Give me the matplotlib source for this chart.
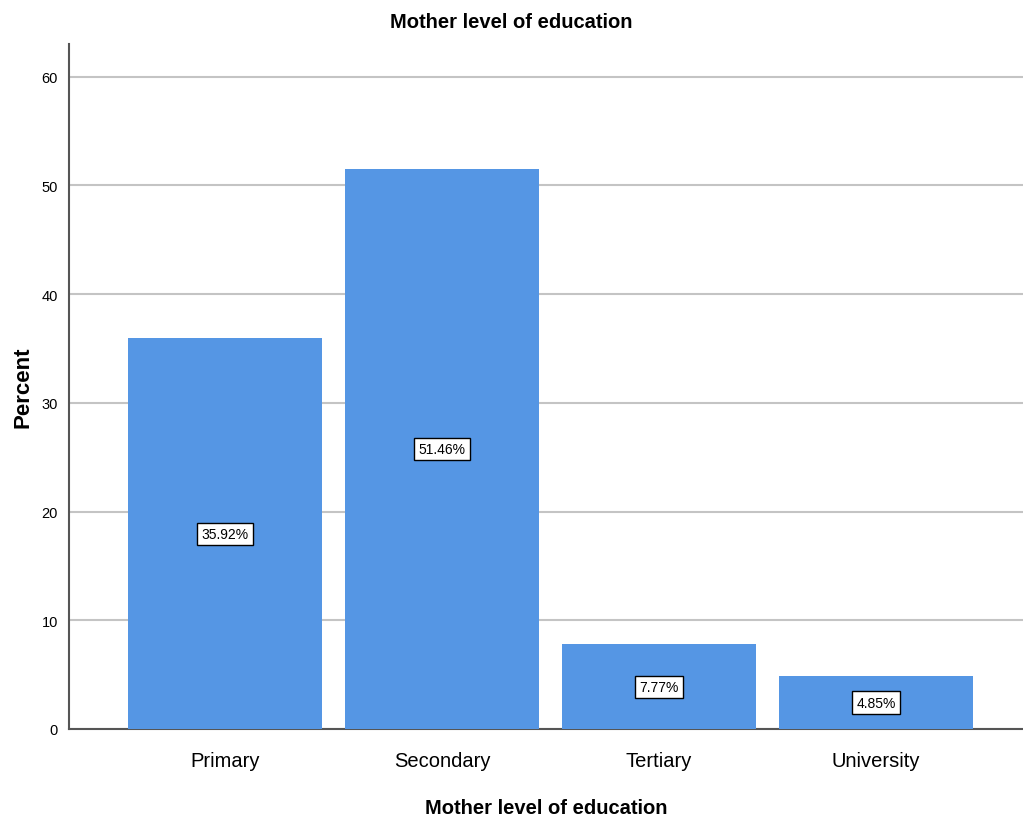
import numpy as np
import matplotlib.pyplot as plt

plt.rcParams['font.family'] = ['Liberation Sans', 'DejaVu Sans']

# mother's level of education, percent of respondents
levels = ['Primary', 'Secondary', 'Tertiary', 'University']
percent = [35.92, 51.46, 7.77, 4.85]
yticks = [0, 10, 20, 30, 40, 50, 60]

fig = plt.figure(figsize=(10.23, 8.28), dpi=100)
ax = fig.add_axes([0.0674, 0.1184, 0.9326, 0.8273])

x = np.arange(len(levels))
ax.bar(x, percent, width=0.894, color='#5596E4', zorder=3)

# value boxes sit halfway up each bar
for xi, p in zip(x, percent):
    ax.text(xi, p / 2, f'{p:.2f}%', ha='center', va='center', fontsize=10,
            zorder=4, bbox=dict(boxstyle='square,pad=0.3', fc='white',
                                ec='black', lw=1))

ax.set_xlim(-0.719, 3.677)
ax.set_ylim(0, 63)
ax.set_yticks(yticks)
ax.set_xticks(x)
ax.set_xticklabels(levels, fontsize=14.5)
ax.tick_params(axis='y', length=0, labelsize=10.5, pad=8)
ax.tick_params(axis='x', length=0, pad=16)
ax.yaxis.grid(True, color='#C4C4C4', lw=1.5, zorder=0)

for s in ['top', 'right']:
    ax.spines[s].set_visible(False)
for s in ['left', 'bottom']:
    ax.spines[s].set_color('#555555')
    ax.spines[s].set_linewidth(1.5)

ax.set_ylabel('Percent', fontsize=16, fontweight='bold', labelpad=6)
ax.set_xlabel('Mother level of education', fontsize=14.5, fontweight='bold',
              labelpad=20)
fig.text(0.5, 0.973, 'Mother level of education', ha='center', va='center',
         fontsize=14.5, fontweight='bold')

fig.savefig('out.png', dpi=100)
